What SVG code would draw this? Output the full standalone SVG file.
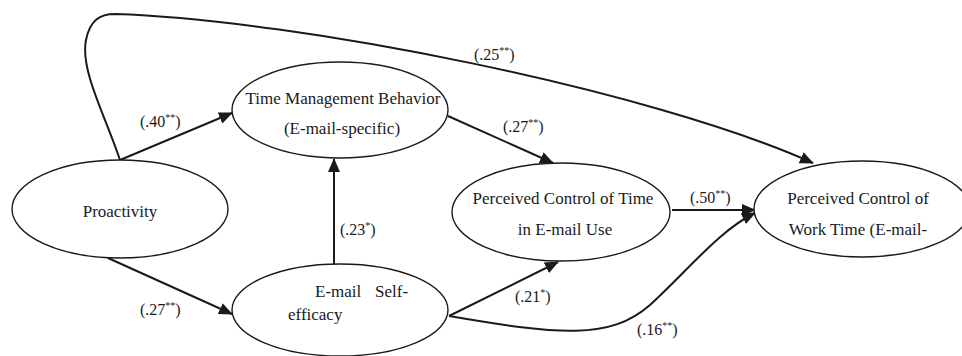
<svg xmlns="http://www.w3.org/2000/svg" width="962" height="356" viewBox="0 0 962 356">
  <style>
    .node ellipse { fill: #ffffff; stroke: #1a1a1a; stroke-width: 1.4; }
    .node text { font-family: "Liberation Serif", "Times New Roman", "DejaVu Serif", serif; font-size: 17px; fill: #1a1a1a; }
    .mid { text-anchor: middle; }
    #connectors path { fill: none; stroke: #1a1a1a; stroke-width: 2; marker-end: url(#arrow); }
    .coef { font-family: "Liberation Serif", "Times New Roman", "DejaVu Serif", serif; font-size: 16px; fill: #1a1a1a; }
    .sup { font-size: 10px; }
  </style>
  <defs>
    <marker id="arrow" markerUnits="userSpaceOnUse" markerWidth="14" markerHeight="12" viewBox="0 0 14 12" refX="13" refY="6" orient="auto">
      <path d="M0,0 L14,6 L0,12 Z" fill="#1a1a1a"/>
    </marker>
  </defs>
  <rect width="962" height="356" fill="#ffffff"/>

  <!-- paths between latent variables -->
  <g id="connectors">
    <path d="M120,160 C105,115 80,70 86,40 C90,20 100,14 115,14 C300,20 650,90 813,163"/>
    <path d="M120,160 L232,113"/>
    <path d="M448,116 L553,163"/>
    <path d="M334,264 L334,159"/>
    <path d="M108,258 L232,314"/>
    <path d="M672,210 L755,210"/>
    <path d="M449,316 L558,262"/>
    <path d="M449,316 C560,335 610,340 650,305 C690,268 720,230 755,213"/>
  </g>

  <!-- path coefficients -->
  <g id="labels">
    <text class="coef" x="474" y="60">(.25<tspan class="sup" dy="-6">**</tspan><tspan dy="6">)</tspan></text>
    <text class="coef" x="140" y="127">(.40<tspan class="sup" dy="-6">**</tspan><tspan dy="6">)</tspan></text>
    <text class="coef" x="503" y="132">(.27<tspan class="sup" dy="-6">**</tspan><tspan dy="6">)</tspan></text>
    <text class="coef" x="340" y="235">(.23<tspan class="sup" dy="-6">*</tspan><tspan dy="6">)</tspan></text>
    <text class="coef" x="140" y="315">(.27<tspan class="sup" dy="-6">**</tspan><tspan dy="6">)</tspan></text>
    <text class="coef" x="690" y="203">(.50<tspan class="sup" dy="-6">**</tspan><tspan dy="6">)</tspan></text>
    <text class="coef" x="515" y="302">(.21<tspan class="sup" dy="-6">*</tspan><tspan dy="6">)</tspan></text>
    <text class="coef" x="637" y="335">(.16<tspan class="sup" dy="-6">**</tspan><tspan dy="6">)</tspan></text>
  </g>

  <g id="proactivity" class="node">
    <ellipse cx="120" cy="209" rx="108" ry="49"/>
    <text class="mid" x="120" y="217">Proactivity</text>
  </g>

  <g id="time-management" class="node">
    <ellipse cx="340" cy="110" rx="108" ry="48"/>
    <text class="mid" x="343" y="104">Time Management Behavior</text>
    <text class="mid" x="342" y="134">(E-mail-specific)</text>
  </g>

  <g id="self-efficacy" class="node">
    <ellipse cx="340" cy="310" rx="108" ry="46"/>
    <text x="315" y="297">E-mail<tspan x="375">Self-</tspan></text>
    <text x="288" y="320">efficacy</text>
  </g>

  <g id="control-email" class="node">
    <ellipse cx="561" cy="212" rx="109" ry="49"/>
    <text class="mid" x="563" y="204">Perceived Control of Time</text>
    <text class="mid" x="565" y="235">in E-mail Use</text>
  </g>

  <g id="control-work" class="node">
    <ellipse cx="862" cy="209" rx="108" ry="48"/>
    <text class="mid" x="858" y="204">Perceived Control of</text>
    <text class="mid" x="858" y="235">Work Time (E-mail-</text>
  </g>
</svg>
